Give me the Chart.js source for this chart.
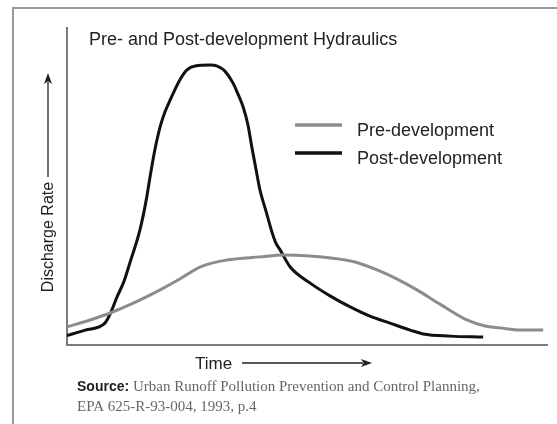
<!DOCTYPE html>
<html>
<head>
<meta charset="utf-8">
<script src="https://cdn.jsdelivr.net/npm/chart.js@4/dist/chart.umd.min.js"></script>
<style>
    html, body { margin: 0; padding: 0; background: #fff; }
    #wrap { position: relative; width: 557px; height: 424px; }
</style>
</head>
<body>
<div id="wrap"><canvas id="hydroChart" width="557" height="424"></canvas></div>
<script>
// Time axis goes 0..100, discharge 0..100 (no ticks on the original, units are relative)
const preTime = [0, 4.8, 9.0, 13.8, 19.4, 23.5, 27.7, 33.3, 40.2, 45.0, 50.6, 55.4, 60.0, 64.6, 68.8, 72.9, 77.7, 83.3, 87.1, 90.2, 94.4, 99.2];
const preFlow = [5.7, 7.9, 10.1, 13.2, 17.4, 20.8, 24.6, 26.8, 27.8, 28.4, 28.1, 27.4, 26.2, 23.7, 20.8, 17.4, 12.9, 7.9, 6.0, 5.4, 4.7, 4.7];

const postTime = [0, 3.8, 7.9, 9.0, 10.4, 11.9, 13.1, 15.2, 16.5, 17.3, 18.3, 19.4, 20.4, 21.5, 23.5, 25.0, 26.7, 29.8, 31.3, 32.9, 34.6, 35.6, 36.7, 37.7, 38.5, 39.4, 40.2, 41.5, 42.7, 43.5, 44.4, 46.5, 50.6, 54.8, 59.0, 63.1, 67.3, 71.5, 74.2, 79.8, 86.7];
const postFlow = [3.0, 4.7, 6.9, 9.8, 15.1, 20.2, 25.9, 36.3, 45.7, 53.0, 61.5, 68.8, 73.5, 77.3, 83.6, 86.8, 88.0, 88.3, 88.0, 86.4, 82.6, 79.2, 75.1, 69.4, 62.5, 55.2, 48.9, 42.0, 35.6, 32.2, 30.0, 24.6, 19.6, 15.5, 12.0, 9.1, 6.9, 4.7, 3.5, 2.8, 2.5];

const seriesLabels = ['Pre-development', 'Post-development'];
const titleText = 'Pre- and Post-development Hydraulics';
const yLabel = 'Discharge Rate';
const xLabel = 'Time';
const sourceLines = ['Urban Runoff Pollution Prevention and Control Planning,', 'EPA 625-R-93-004, 1993, p.4'];

const SANS = '"Liberation Sans", Arial, Helvetica, sans-serif';
const SERIF = '"Liberation Serif", "Times New Roman", serif';

const toPoints = (xs, ys) => xs.map((x, i) => ({ x: x, y: ys[i] }));

function arrowLine(ctx, x1, y1, x2, y2) {
    // line with a filled arrow head at (x2, y2)
    const ang = Math.atan2(y2 - y1, x2 - x1);
    const len = 11, half = 4;
    ctx.beginPath();
    ctx.moveTo(x1, y1);
    ctx.lineTo(x2 - Math.cos(ang) * len * 0.8, y2 - Math.sin(ang) * len * 0.8);
    ctx.stroke();
    ctx.beginPath();
    ctx.moveTo(x2, y2);
    ctx.lineTo(x2 - Math.cos(ang) * len - Math.sin(ang) * half, y2 - Math.sin(ang) * len + Math.cos(ang) * half);
    ctx.lineTo(x2 - Math.cos(ang) * len * 0.75, y2 - Math.sin(ang) * len * 0.75);
    ctx.lineTo(x2 - Math.cos(ang) * len + Math.sin(ang) * half, y2 - Math.sin(ang) * len - Math.cos(ang) * half);
    ctx.closePath();
    ctx.fill();
}

const decorPlugin = {
    id: 'decor',
    afterDraw(chart) {
        const ctx = chart.ctx;
        ctx.save();

        // outer frame (only top and left visible in the crop)
        ctx.strokeStyle = '#9a9a9a';
        ctx.lineWidth = 2;
        ctx.strokeRect(13, 8, 600, 500);

        // title
        ctx.fillStyle = '#222';
        ctx.font = '18px ' + SANS;
        ctx.textBaseline = 'alphabetic';
        ctx.textAlign = 'left';
        ctx.fillText(titleText, 89, 45);

        // legend
        chart.data.datasets.forEach((ds, i) => {
            const ly = 125 + i * 28;
            ctx.strokeStyle = ds.borderColor;
            ctx.lineWidth = 3.5;
            ctx.beginPath();
            ctx.moveTo(295, ly);
            ctx.lineTo(342, ly);
            ctx.stroke();
            ctx.fillStyle = '#222';
            ctx.font = '18px ' + SANS;
            ctx.fillText(ds.label, 357, ly + 11);
        });

        // y axis label with arrow
        ctx.fillStyle = '#222';
        ctx.strokeStyle = '#222';
        ctx.lineWidth = 1.3;
        ctx.save();
        ctx.translate(53, 237);
        ctx.rotate(-Math.PI / 2);
        ctx.font = '16px ' + SANS;
        ctx.textAlign = 'center';
        ctx.fillText(yLabel, 0, 0);
        ctx.restore();
        arrowLine(ctx, 48, 177, 48, 73);

        // x axis label with arrow
        ctx.font = '17px ' + SANS;
        ctx.textAlign = 'left';
        ctx.fillText(xLabel, 195, 369);
        arrowLine(ctx, 242, 363, 372, 363);

        // source
        ctx.font = 'bold 14px ' + SANS;
        ctx.fillStyle = '#222';
        ctx.fillText('Source:', 77, 391);
        const sw = ctx.measureText('Source: ').width;
        ctx.font = '15px ' + SERIF;
        ctx.fillStyle = '#666';
        ctx.fillText(sourceLines[0], 77 + sw, 391);
        ctx.fillText(sourceLines[1], 77, 411);

        ctx.restore();
    }
};

const chart = new Chart(document.getElementById('hydroChart'), {
    type: 'line',
    data: {
        datasets: [
            {
                label: seriesLabels[0],
                data: toPoints(preTime, preFlow),
                borderColor: '#8c8c8c',
                borderWidth: 3,
                cubicInterpolationMode: 'monotone',
                pointRadius: 0,
                fill: false
            },
            {
                label: seriesLabels[1],
                data: toPoints(postTime, postFlow),
                borderColor: '#111111',
                borderWidth: 3,
                cubicInterpolationMode: 'monotone',
                pointRadius: 0,
                fill: false
            }
        ]
    },
    options: {
        responsive: false,
        animation: false,
        layout: { padding: { left: 59, right: 10, top: 28, bottom: 71 } },
        plugins: {
            legend: { display: false },
            tooltip: { enabled: false },
            title: { display: false }
        },
        scales: {
            x: {
                type: 'linear',
                min: 0,
                max: 100,
                ticks: { display: false },
                grid: { display: false },
                border: { display: true, color: '#7a7a7a', width: 2 }
            },
            y: {
                min: 0,
                max: 100,
                ticks: { display: false },
                grid: { display: false },
                border: { display: true, color: '#7a7a7a', width: 2 }
            }
        }
    },
    plugins: [decorPlugin]
});
</script>
</body>
</html>
